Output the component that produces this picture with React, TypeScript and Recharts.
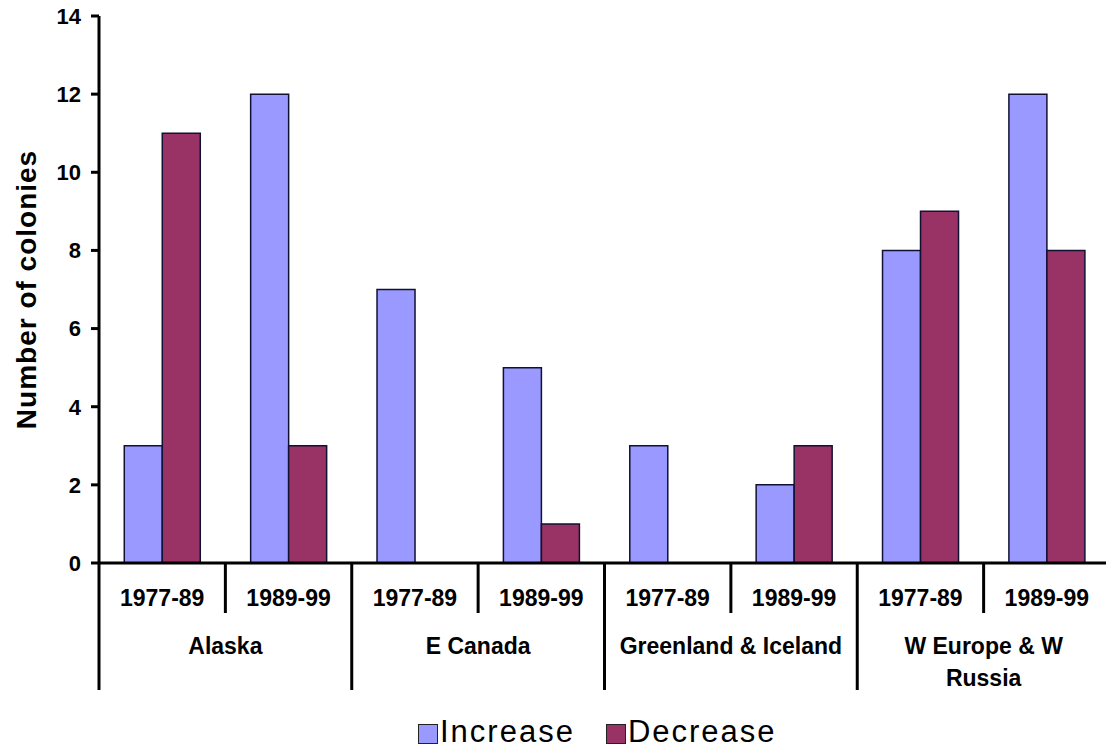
import React from 'react';
import { BarChart, Bar, XAxis, YAxis, Legend } from 'recharts';

const regions = ['Alaska', 'E Canada', 'Greenland & Iceland', 'W Europe & W Russia'];
const regionLabelLines = [['Alaska'], ['E Canada'], ['Greenland & Iceland'], ['W Europe & W', 'Russia']];
const periods = ['1977-89', '1989-99'];
const increase = [3, 12, 7, 5, 3, 2, 8, 12];
const decrease = [11, 3, 0, 1, 0, 3, 9, 8];
const yTicks = [0, 2, 4, 6, 8, 10, 12, 14];
const seriesNames = ['Increase', 'Decrease'];
const seriesColors = ['#9999FF', '#993366'];

const data = regions.flatMap((r, ri) =>
  periods.map((p, pi) => ({
    key: `${r}|${p}`,
    region: r,
    regionIndex: ri,
    period: p,
    Increase: increase[ri * 2 + pi],
    Decrease: decrease[ri * 2 + pi],
  }))
);

const CHART_W = 1112;
const CHART_H = 749;
const MARGIN = { top: 16, right: 2, left: 0, bottom: 0 };
const Y_AXIS_W = 99;
const X_AXIS_H = 146;
const LEGEND_H = 40;
const FONT = '"Liberation Sans", Arial, sans-serif';
const FALLBACK_BAND = (CHART_W - MARGIN.left - MARGIN.right - Y_AXIS_W) / data.length;

function XTick(props: any) {
  const { x, y, payload } = props;
  const index: number = props.index ?? payload.index ?? 0;
  const band = payload && payload.offset ? payload.offset * 2 : FALLBACK_BAND;
  const d = data[index];
  const left = x - band / 2;
  const right = x + band / 2;
  const isGroupStart = index % 2 === 0;
  const isLast = index === data.length - 1;
  const lines = isGroupStart ? regionLabelLines[d.regionIndex] : [];
  return (
    <g>
      <line x1={left} x2={left} y1={y} y2={y + (isGroupStart ? 127 : 50)} stroke="#000" strokeWidth={3} />
      {isLast && <line x1={right} x2={right} y1={y} y2={y + 127} stroke="#000" strokeWidth={3} />}
      <text x={x} y={y + 43} textAnchor="middle" fontFamily={FONT} fontWeight="bold" fontSize={23} fill="#000">
        {d.period}
      </text>
      {lines.map((ln, i) => (
        <text
          key={i}
          x={right}
          y={y + 91 + i * 32}
          textAnchor="middle"
          fontFamily={FONT}
          fontWeight="bold"
          fontSize={23}
          fill="#000"
        >
          {ln}
        </text>
      ))}
    </g>
  );
}

function YLabel(props: any) {
  const vb = props.viewBox || { x: 0, y: MARGIN.top, width: Y_AXIS_W, height: 547 };
  const cx = vb.x + 26;
  const cy = vb.y + vb.height / 2;
  return (
    <text
      x={cx}
      y={cy}
      transform={`rotate(-90 ${cx} ${cy})`}
      textAnchor="middle"
      dominantBaseline="central"
      fontFamily={FONT}
      fontWeight="bold"
      fontSize={28}
      letterSpacing={1}
      fill="#000"
    >
      Number of colonies
    </text>
  );
}

function LegendContent() {
  return (
    <div
      style={{
        height: LEGEND_H,
        display: 'flex',
        alignItems: 'flex-end',
        paddingLeft: 418,
        boxSizing: 'border-box',
        fontFamily: FONT,
      }}
    >
      {seriesNames.map((name, i) => (
        <div key={name} style={{ display: 'flex', alignItems: 'flex-end', marginRight: 31 }}>
          <div
            style={{
              width: 20,
              height: 20,
              background: seriesColors[i],
              border: '1.5px solid #222',
              boxSizing: 'border-box',
              marginBottom: 5,
              marginRight: 2,
            }}
          />
          <span style={{ fontSize: 31, lineHeight: '31px', letterSpacing: 2, color: '#000', paddingBottom: 2 }}>
            {name}
          </span>
        </div>
      ))}
    </div>
  );
}

export default function App() {
  return (
    <div style={{ position: 'absolute', left: 0, top: 0, width: 1106, height: 749, overflow: 'hidden', background: '#fff' }}>
      <BarChart width={CHART_W} height={CHART_H} data={data} margin={MARGIN} barCategoryGap="20%" barGap={0}>
        <XAxis
          dataKey="key"
          height={X_AXIS_H}
          interval={0}
          tickLine={false}
          tickSize={0}
          tickMargin={0}
          axisLine={{ stroke: '#000', strokeWidth: 3 }}
          tick={<XTick />}
        />
        <YAxis
          width={Y_AXIS_W}
          domain={[0, 14]}
          ticks={yTicks}
          interval={0}
          tickSize={8}
          tickMargin={10}
          axisLine={{ stroke: '#000', strokeWidth: 3 }}
          tickLine={{ stroke: '#000', strokeWidth: 3 }}
          tick={{ fill: '#000', fontFamily: FONT, fontWeight: 'bold', fontSize: 22 }}
          label={<YLabel />}
        />
        <Legend verticalAlign="bottom" height={LEGEND_H} content={() => <LegendContent />} />
        {seriesNames.map((name, i) => (
          <Bar
            key={name}
            dataKey={name}
            fill={seriesColors[i]}
            stroke="#111133"
            strokeWidth={1.5}
            isAnimationActive={false}
          />
        ))}
      </BarChart>
    </div>
  );
}
